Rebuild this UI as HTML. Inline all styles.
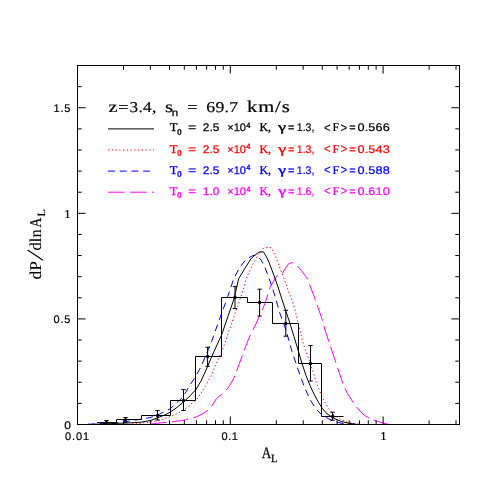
<!DOCTYPE html><html><head><meta charset="utf-8"><style>html,body{margin:0;padding:0;background:#fff;width:501px;height:501px;overflow:hidden}</style></head><body><svg width="501" height="501" viewBox="0 0 501 501" style="position:absolute;left:0;top:0;opacity:0.999;will-change:transform" font-family="Liberation Serif, serif" text-rendering="geometricPrecision">
<rect width="501" height="501" fill="#fff"/>
<polyline points="150.0,424.2 157.0,423.2 170.0,422.0 183.0,420.4 196.0,417.0 203.0,413.6 210.0,409.0 216.3,398.7 223.0,393.2 228.4,387.7 234.0,377.8 239.4,363.5 245.0,348.2 249.3,337.2 256.0,323.7 265.0,303.5 270.0,287.5 276.5,276.0 281.0,275.5 285.0,269.0 288.7,263.7 292.5,262.5 297.5,266.0 302.5,272.0 307.5,279.0 314.5,297.5 321.5,317.5 325.0,330.0 330.0,345.0 337.0,366.0 344.0,387.0 347.5,393.5 352.0,400.7 358.0,409.0 364.0,415.0 370.0,418.6 376.0,421.0 383.0,423.0 388.0,424.2" fill="none" stroke="#ff00ff" stroke-width="1" stroke-dasharray="16.7 5.3"/>
<polyline points="132.0,424.0 140.0,423.4 152.0,421.9 160.0,420.0 168.0,417.5 176.0,414.3 184.0,409.6 190.0,405.0 196.6,399.5 201.0,393.2 206.5,384.4 212.0,373.4 217.4,361.3 223.0,348.2 228.4,332.8 234.0,316.3 239.4,301.0 243.3,290.0 246.0,278.7 252.5,265.0 258.7,253.7 263.7,248.0 268.7,247.3 271.5,248.0 275.0,255.0 278.0,263.0 281.0,271.0 284.6,280.0 288.0,290.0 292.0,300.0 295.0,310.0 297.5,320.0 300.0,330.0 302.0,339.0 304.5,347.5 310.4,363.5 316.0,381.5 322.0,397.0 328.0,408.0 334.0,415.0 340.0,419.0 346.0,421.7 352.0,423.4 360.0,424.2" fill="none" stroke="#ff0000" stroke-width="1" stroke-dasharray="1.3 2.45"/>
<polyline points="88.0,424.2 100.0,423.8 115.0,423.0 130.0,421.0 150.0,417.6 157.6,415.0 170.0,409.0 183.0,397.0 190.0,385.0 195.5,376.7 201.0,366.8 206.5,353.7 212.0,340.5 217.4,325.0 221.4,314.0 226.2,301.0 230.0,290.0 233.7,278.7 240.0,267.0 246.0,259.5 252.5,255.7 256.0,255.0 261.0,260.0 265.0,267.5 270.0,281.0 275.0,296.0 280.0,313.7 286.0,330.0 292.0,351.5 298.0,369.5 304.0,386.0 310.0,399.5 316.0,409.0 322.0,415.0 328.0,418.6 334.0,421.0 340.0,423.0 348.0,424.2" fill="none" stroke="#0000ff" stroke-width="1" stroke-dasharray="7 4.7"/>
<polyline points="92.0,424.3 100.0,424.0 110.0,423.7 120.0,423.2 130.0,422.9 140.8,422.2 147.0,421.2 152.0,420.0 157.5,417.8 163.0,415.7 168.0,413.5 176.0,408.2 184.0,401.6 190.0,395.8 196.0,389.5 201.0,381.0 206.5,369.0 212.0,356.0 217.4,344.0 221.4,335.5 225.0,325.0 229.5,312.0 234.0,298.8 236.0,290.0 238.7,278.7 245.0,268.2 251.4,258.2 258.5,252.3 263.3,251.8 266.0,256.0 268.9,262.0 274.0,275.5 278.0,287.0 282.0,299.5 286.0,311.5 289.5,322.0 292.0,330.0 294.0,336.5 298.0,350.0 302.0,363.5 306.0,375.5 310.0,385.5 314.0,394.0 318.0,401.5 322.0,408.0 326.0,412.8 330.0,416.0 336.0,419.3 342.0,421.7 349.0,423.3 356.0,424.2" fill="none" stroke="#000" stroke-width="1"/>
<polyline points="97.0,422.5 116.5,422.5 116.5,419.5 141.5,419.5 141.5,415.5 170.5,415.5 170.5,400.5 195.5,400.5 195.5,356.5 221.5,356.5 221.5,297.5 247.5,297.5 247.5,302.5 272.5,302.5 272.5,323.5 298.5,323.5 298.5,363.5 321.5,363.5 321.5,416.5 343.5,416.5" fill="none" stroke="#000" stroke-width="1"/>
<path d="M106.5 420.5V424.3M104.3 420.5H108.7M104.3 424.3H108.7" stroke="#000" stroke-width="1" fill="none"/>
<circle cx="106.5" cy="422.5" r="1.7" fill="#000"/>
<path d="M125.5 417.5V422.3M123.3 417.5H127.7M123.3 422.3H127.7" stroke="#000" stroke-width="1" fill="none"/>
<circle cx="125.5" cy="419.8" r="1.7" fill="#000"/>
<path d="M157.5 410.6V420M155.3 410.6H159.7M155.3 420H159.7" stroke="#000" stroke-width="1" fill="none"/>
<circle cx="157.5" cy="415.5" r="1.7" fill="#000"/>
<path d="M183.5 389.6V410.5M181.3 389.6H185.7M181.3 410.5H185.7" stroke="#000" stroke-width="1" fill="none"/>
<circle cx="183.5" cy="400.5" r="1.7" fill="#000"/>
<path d="M207.6 347.2V366.3M205.4 347.2H209.79999999999998M205.4 366.3H209.79999999999998" stroke="#000" stroke-width="1" fill="none"/>
<circle cx="207.6" cy="356.5" r="1.7" fill="#000"/>
<path d="M235 286.6V308.6M232.8 286.6H237.2M232.8 308.6H237.2" stroke="#000" stroke-width="1" fill="none"/>
<circle cx="235" cy="297.5" r="1.7" fill="#000"/>
<path d="M259.6 289.2V316M257.40000000000003 289.2H261.8M257.40000000000003 316H261.8" stroke="#000" stroke-width="1" fill="none"/>
<circle cx="259.6" cy="302.5" r="1.7" fill="#000"/>
<path d="M285.8 310.3V336.2M283.6 310.3H288.0M283.6 336.2H288.0" stroke="#000" stroke-width="1" fill="none"/>
<circle cx="285.8" cy="323.5" r="1.7" fill="#000"/>
<path d="M310.5 345.6V381M308.3 345.6H312.7M308.3 381H312.7" stroke="#000" stroke-width="1" fill="none"/>
<circle cx="310.5" cy="363.5" r="1.7" fill="#000"/>
<path d="M332.6 412.2V420.2M330.40000000000003 412.2H334.8M330.40000000000003 420.2H334.8" stroke="#000" stroke-width="1" fill="none"/>
<circle cx="332.6" cy="416.5" r="1.7" fill="#000"/>
<line x1="108" y1="128.9" x2="154" y2="128.9" stroke="#000" stroke-width="1"/>
<line x1="108" y1="150.0" x2="154" y2="150.0" stroke="#ff0000" stroke-width="1" stroke-dasharray="1.3 2.45"/>
<line x1="108" y1="171.1" x2="154" y2="171.1" stroke="#0000ff" stroke-width="1" stroke-dasharray="7 4.7"/>
<line x1="108" y1="192.2" x2="154" y2="192.2" stroke="#ff00ff" stroke-width="1" stroke-dasharray="16.7 5.3"/>
<rect x="77.5" y="65.5" width="382.0" height="359.0" fill="none" stroke="#000" stroke-width="1"/>
<path d="M123.50 424.5v-4.2M123.50 65.5v4.2M150.40 424.5v-4.2M150.40 65.5v4.2M169.49 424.5v-4.2M169.49 65.5v4.2M184.30 424.5v-4.2M184.30 65.5v4.2M196.40 424.5v-4.2M196.40 65.5v4.2M206.63 424.5v-4.2M206.63 65.5v4.2M215.49 424.5v-4.2M215.49 65.5v4.2M223.31 424.5v-4.2M223.31 65.5v4.2M230.30 424.5v-8.1M230.30 65.5v8.1M276.30 424.5v-4.2M276.30 65.5v4.2M303.20 424.5v-4.2M303.20 65.5v4.2M322.29 424.5v-4.2M322.29 65.5v4.2M337.10 424.5v-4.2M337.10 65.5v4.2M349.20 424.5v-4.2M349.20 65.5v4.2M359.43 424.5v-4.2M359.43 65.5v4.2M368.29 424.5v-4.2M368.29 65.5v4.2M376.11 424.5v-4.2M376.11 65.5v4.2M383.10 424.5v-8.1M383.10 65.5v8.1M429.10 424.5v-4.2M429.10 65.5v4.2M456.00 424.5v-4.2M456.00 65.5v4.2M77.5 403.38h4.2M459.5 403.38h-4.2M77.5 382.26h4.2M459.5 382.26h-4.2M77.5 361.15h4.2M459.5 361.15h-4.2M77.5 340.03h4.2M459.5 340.03h-4.2M77.5 318.91h8.1M459.5 318.91h-8.1M77.5 297.79h4.2M459.5 297.79h-4.2M77.5 276.68h4.2M459.5 276.68h-4.2M77.5 255.56h4.2M459.5 255.56h-4.2M77.5 234.44h4.2M459.5 234.44h-4.2M77.5 213.32h8.1M459.5 213.32h-8.1M77.5 192.21h4.2M459.5 192.21h-4.2M77.5 171.09h4.2M459.5 171.09h-4.2M77.5 149.97h4.2M459.5 149.97h-4.2M77.5 128.85h4.2M459.5 128.85h-4.2M77.5 107.74h8.1M459.5 107.74h-8.1M77.5 86.62h4.2M459.5 86.62h-4.2" stroke="#000" stroke-width="1" fill="none"/>
<g transform="translate(53.6,111.6) scale(1.0,1)"><text x="0" y="0" font-family="Liberation Sans, sans-serif" font-size="11" fill="#000" textLength="16.80" lengthAdjust="spacing" stroke="#000" stroke-width="0.2">1.5</text></g>
<g transform="translate(64.2,217.6) scale(1.05,1)"><text x="0" y="0" font-family="Liberation Serif, serif" font-size="12" fill="#000" stroke="#000" stroke-width="0.2">1</text></g>
<g transform="translate(53.6,323.2) scale(1.0,1)"><text x="0" y="0" font-family="Liberation Sans, sans-serif" font-size="11" fill="#000" textLength="16.80" lengthAdjust="spacing" stroke="#000" stroke-width="0.2">0.5</text></g>
<g transform="translate(64.3,428.6) scale(1.1,1)"><text x="0" y="0" font-family="Liberation Sans, sans-serif" font-size="11" fill="#000" stroke="#000" stroke-width="0.2">0</text></g>
<g transform="translate(65,439.6) scale(1.0,1)"><text x="0" y="0" font-family="Liberation Sans, sans-serif" font-size="11" fill="#000" textLength="24.00" lengthAdjust="spacing" stroke="#000" stroke-width="0.2">0.01</text></g>
<g transform="translate(221.6,439.6) scale(1.0,1)"><text x="0" y="0" font-family="Liberation Sans, sans-serif" font-size="11" fill="#000" textLength="16.40" lengthAdjust="spacing" stroke="#000" stroke-width="0.2">0.1</text></g>
<g transform="translate(380.2,439.6) scale(1.05,1)"><text x="0" y="0" font-family="Liberation Serif, serif" font-size="12" fill="#000" stroke="#000" stroke-width="0.2">1</text></g>
<g transform="translate(261.8,458) scale(0.82,1)"><text x="0" y="0" font-family="Liberation Serif, serif" font-size="16" fill="#000" stroke="#000" stroke-width="0.25">A</text></g>
<g transform="translate(271.0,462) scale(0.95,1)"><text x="0" y="0" font-family="Liberation Serif, serif" font-size="11" fill="#000" stroke="#000" stroke-width="0.25">L</text></g>
<g transform="translate(40.6,279.4) rotate(-90) scale(1.06,1)"><text x="0" y="0" font-family="Liberation Serif, serif" font-size="16.5" fill="#000" stroke="#000" stroke-width="0.08">dP</text></g>
<line x1="43" y1="260.2" x2="27.6" y2="250" stroke="#000" stroke-width="1.1"/>
<g transform="translate(40.6,250.4) rotate(-90) scale(1.0,1)"><text x="0" y="0" font-family="Liberation Serif, serif" font-size="16.5" fill="#000" stroke="#000" stroke-width="0.08">dln</text></g>
<g transform="translate(40.6,227.4) rotate(-90) scale(0.82,1)"><text x="0" y="0" font-family="Liberation Serif, serif" font-size="16.5" fill="#000" stroke="#000" stroke-width="0.2">A</text></g>
<g transform="translate(44.6,216.6) rotate(-90) scale(1.1,1)"><text x="0" y="0" font-family="Liberation Serif, serif" font-size="11" fill="#000" stroke="#000" stroke-width="0.15">L</text></g>
<g transform="translate(108.4,111.7) scale(1.25,1)"><text x="0" y="0" font-family="Liberation Serif, serif" font-size="16" fill="#000" stroke="#000" stroke-width="0.2">z</text></g>
<g transform="translate(118.3,111.7) scale(1.2,1)"><text x="0" y="0" font-family="Liberation Serif, serif" font-size="15" fill="#000" stroke="#000" stroke-width="0.2">=</text></g>
<g transform="translate(129.6,111.7) scale(1.15,1)"><text x="0" y="0" font-family="Liberation Serif, serif" font-size="15" fill="#000" textLength="23.13" lengthAdjust="spacing" stroke="#000" stroke-width="0.2">3.4,</text></g>
<g transform="translate(165,111.7) scale(1.3,1)"><text x="0" y="0" font-family="Liberation Serif, serif" font-size="16" fill="#000" stroke="#000" stroke-width="0.2">s</text></g>
<g transform="translate(171.8,115.5) scale(1.15,1)"><text x="0" y="0" font-family="Liberation Sans, sans-serif" font-size="10" fill="#000" stroke="#000" stroke-width="0.25">n</text></g>
<g transform="translate(187.3,111.7) scale(1.2,1)"><text x="0" y="0" font-family="Liberation Serif, serif" font-size="15" fill="#000" stroke="#000" stroke-width="0.2">=</text></g>
<g transform="translate(206.3,111.7) scale(1.18,1)"><text x="0" y="0" font-family="Liberation Serif, serif" font-size="15" fill="#000" textLength="26.86" lengthAdjust="spacing" stroke="#000" stroke-width="0.2">69.7</text></g>
<g transform="translate(247,111.7) scale(1.25,1)"><text x="0" y="0" font-family="Liberation Serif, serif" font-size="16.5" fill="#000" textLength="34.16" lengthAdjust="spacing" stroke="#000" stroke-width="0.2">km/s</text></g>
<g transform="translate(169.8,131.3) scale(1.05,1)"><text x="0" y="0" font-family="Liberation Serif, serif" font-size="12" fill="#000" stroke="#000" stroke-width="0.3">T</text></g>
<g transform="translate(177,134.7) scale(1.0,1)"><text x="0" y="0" font-family="Liberation Sans, sans-serif" font-size="8.5" fill="#000" stroke="#000" stroke-width="0.15" font-weight="bold">0</text></g>
<g transform="translate(188,131.3) scale(1.3,1)"><text x="0" y="0" font-family="Liberation Sans, sans-serif" font-size="11" fill="#000" stroke="#000" stroke-width="0.05">=</text></g>
<g transform="translate(202.8,131.3) scale(1.08,1)"><text x="0" y="0" font-family="Liberation Sans, sans-serif" font-size="11" fill="#000" textLength="15.46" lengthAdjust="spacing" stroke="#000" stroke-width="0.25">2.5</text></g>
<g transform="translate(227.2,131.3) scale(1.0,1)"><text x="0" y="0" font-family="Liberation Sans, sans-serif" font-size="11" fill="#000" textLength="18.70" lengthAdjust="spacing" stroke="#000" stroke-width="0.25">×10</text></g>
<g transform="translate(246.2,128.0) scale(1.0,1)"><text x="0" y="0" font-family="Liberation Sans, sans-serif" font-size="7.5" fill="#000" stroke="#000" stroke-width="0.15" font-weight="bold">4</text></g>
<g transform="translate(259.6,131.3) scale(1.0,1)"><text x="0" y="0" font-family="Liberation Serif, serif" font-size="12" fill="#000" textLength="11.40" lengthAdjust="spacing" stroke="#000" stroke-width="0.3">K,</text></g>
<g transform="translate(278.2,131.3) scale(1.4,1)"><text x="0" y="0" font-family="Liberation Serif, serif" font-size="12.5" fill="#000" stroke="#000" stroke-width="0.4">γ</text></g>
<g transform="translate(288,131.3) scale(1.0,1)"><text x="0" y="0" font-family="Liberation Sans, sans-serif" font-size="11" fill="#000" stroke="#000" stroke-width="0.2">=</text></g>
<g transform="translate(296.8,131.3) scale(0.96,1)"><text x="0" y="0" font-family="Liberation Sans, sans-serif" font-size="11" fill="#000" textLength="18.33" lengthAdjust="spacing" stroke="#000" stroke-width="0.2">1.3,</text></g>
<g transform="translate(324,131.9) scale(0.88,1)"><text x="0" y="0" font-family="Liberation Sans, sans-serif" font-size="13" fill="#000" stroke="#000" stroke-width="0.1">&lt;</text></g>
<g transform="translate(332.5,131.3) scale(1.0,1)"><text x="0" y="0" font-family="Liberation Serif, serif" font-size="12" fill="#000" stroke="#000" stroke-width="0.2">F</text></g>
<g transform="translate(340.4,131.9) scale(0.88,1)"><text x="0" y="0" font-family="Liberation Sans, sans-serif" font-size="13" fill="#000" stroke="#000" stroke-width="0.1">&gt;</text></g>
<g transform="translate(349.3,131.3) scale(1.0,1)"><text x="0" y="0" font-family="Liberation Sans, sans-serif" font-size="11" fill="#000" stroke="#000" stroke-width="0.2">=</text></g>
<g transform="translate(357.5,131.3) scale(1.15,1)"><text x="0" y="0" font-family="Liberation Sans, sans-serif" font-size="11" fill="#000" textLength="28.09" lengthAdjust="spacing" stroke="#000" stroke-width="0.2">0.566</text></g>
<g transform="translate(169.8,152.5) scale(1.05,1)"><text x="0" y="0" font-family="Liberation Serif, serif" font-size="12" fill="#ff0000" stroke="#ff0000" stroke-width="0.3">T</text></g>
<g transform="translate(177,155.9) scale(1.0,1)"><text x="0" y="0" font-family="Liberation Sans, sans-serif" font-size="8.5" fill="#ff0000" stroke="#ff0000" stroke-width="0.15" font-weight="bold">0</text></g>
<g transform="translate(188,152.5) scale(1.3,1)"><text x="0" y="0" font-family="Liberation Sans, sans-serif" font-size="11" fill="#ff0000" stroke="#ff0000" stroke-width="0.05">=</text></g>
<g transform="translate(202.8,152.5) scale(1.08,1)"><text x="0" y="0" font-family="Liberation Sans, sans-serif" font-size="11" fill="#ff0000" textLength="15.46" lengthAdjust="spacing" stroke="#ff0000" stroke-width="0.25">2.5</text></g>
<g transform="translate(227.2,152.5) scale(1.0,1)"><text x="0" y="0" font-family="Liberation Sans, sans-serif" font-size="11" fill="#ff0000" textLength="18.70" lengthAdjust="spacing" stroke="#ff0000" stroke-width="0.25">×10</text></g>
<g transform="translate(246.2,149.2) scale(1.0,1)"><text x="0" y="0" font-family="Liberation Sans, sans-serif" font-size="7.5" fill="#ff0000" stroke="#ff0000" stroke-width="0.15" font-weight="bold">4</text></g>
<g transform="translate(259.6,152.5) scale(1.0,1)"><text x="0" y="0" font-family="Liberation Serif, serif" font-size="12" fill="#ff0000" textLength="11.40" lengthAdjust="spacing" stroke="#ff0000" stroke-width="0.3">K,</text></g>
<g transform="translate(278.2,152.5) scale(1.4,1)"><text x="0" y="0" font-family="Liberation Serif, serif" font-size="12.5" fill="#ff0000" stroke="#ff0000" stroke-width="0.4">γ</text></g>
<g transform="translate(288,152.5) scale(1.0,1)"><text x="0" y="0" font-family="Liberation Sans, sans-serif" font-size="11" fill="#ff0000" stroke="#ff0000" stroke-width="0.2">=</text></g>
<g transform="translate(296.8,152.5) scale(0.96,1)"><text x="0" y="0" font-family="Liberation Sans, sans-serif" font-size="11" fill="#ff0000" textLength="18.33" lengthAdjust="spacing" stroke="#ff0000" stroke-width="0.2">1.3,</text></g>
<g transform="translate(324,153.1) scale(0.88,1)"><text x="0" y="0" font-family="Liberation Sans, sans-serif" font-size="13" fill="#ff0000" stroke="#ff0000" stroke-width="0.1">&lt;</text></g>
<g transform="translate(332.5,152.5) scale(1.0,1)"><text x="0" y="0" font-family="Liberation Serif, serif" font-size="12" fill="#ff0000" stroke="#ff0000" stroke-width="0.2">F</text></g>
<g transform="translate(340.4,153.1) scale(0.88,1)"><text x="0" y="0" font-family="Liberation Sans, sans-serif" font-size="13" fill="#ff0000" stroke="#ff0000" stroke-width="0.1">&gt;</text></g>
<g transform="translate(349.3,152.5) scale(1.0,1)"><text x="0" y="0" font-family="Liberation Sans, sans-serif" font-size="11" fill="#ff0000" stroke="#ff0000" stroke-width="0.2">=</text></g>
<g transform="translate(357.5,152.5) scale(1.15,1)"><text x="0" y="0" font-family="Liberation Sans, sans-serif" font-size="11" fill="#ff0000" textLength="28.09" lengthAdjust="spacing" stroke="#ff0000" stroke-width="0.2">0.543</text></g>
<g transform="translate(169.8,173.6) scale(1.05,1)"><text x="0" y="0" font-family="Liberation Serif, serif" font-size="12" fill="#0000ff" stroke="#0000ff" stroke-width="0.3">T</text></g>
<g transform="translate(177,177.0) scale(1.0,1)"><text x="0" y="0" font-family="Liberation Sans, sans-serif" font-size="8.5" fill="#0000ff" stroke="#0000ff" stroke-width="0.15" font-weight="bold">0</text></g>
<g transform="translate(188,173.6) scale(1.3,1)"><text x="0" y="0" font-family="Liberation Sans, sans-serif" font-size="11" fill="#0000ff" stroke="#0000ff" stroke-width="0.05">=</text></g>
<g transform="translate(202.8,173.6) scale(1.08,1)"><text x="0" y="0" font-family="Liberation Sans, sans-serif" font-size="11" fill="#0000ff" textLength="15.46" lengthAdjust="spacing" stroke="#0000ff" stroke-width="0.25">2.5</text></g>
<g transform="translate(227.2,173.6) scale(1.0,1)"><text x="0" y="0" font-family="Liberation Sans, sans-serif" font-size="11" fill="#0000ff" textLength="18.70" lengthAdjust="spacing" stroke="#0000ff" stroke-width="0.25">×10</text></g>
<g transform="translate(246.2,170.3) scale(1.0,1)"><text x="0" y="0" font-family="Liberation Sans, sans-serif" font-size="7.5" fill="#0000ff" stroke="#0000ff" stroke-width="0.15" font-weight="bold">4</text></g>
<g transform="translate(259.6,173.6) scale(1.0,1)"><text x="0" y="0" font-family="Liberation Serif, serif" font-size="12" fill="#0000ff" textLength="11.40" lengthAdjust="spacing" stroke="#0000ff" stroke-width="0.3">K,</text></g>
<g transform="translate(278.2,173.6) scale(1.4,1)"><text x="0" y="0" font-family="Liberation Serif, serif" font-size="12.5" fill="#0000ff" stroke="#0000ff" stroke-width="0.4">γ</text></g>
<g transform="translate(288,173.6) scale(1.0,1)"><text x="0" y="0" font-family="Liberation Sans, sans-serif" font-size="11" fill="#0000ff" stroke="#0000ff" stroke-width="0.2">=</text></g>
<g transform="translate(296.8,173.6) scale(0.96,1)"><text x="0" y="0" font-family="Liberation Sans, sans-serif" font-size="11" fill="#0000ff" textLength="18.33" lengthAdjust="spacing" stroke="#0000ff" stroke-width="0.2">1.3,</text></g>
<g transform="translate(324,174.2) scale(0.88,1)"><text x="0" y="0" font-family="Liberation Sans, sans-serif" font-size="13" fill="#0000ff" stroke="#0000ff" stroke-width="0.1">&lt;</text></g>
<g transform="translate(332.5,173.6) scale(1.0,1)"><text x="0" y="0" font-family="Liberation Serif, serif" font-size="12" fill="#0000ff" stroke="#0000ff" stroke-width="0.2">F</text></g>
<g transform="translate(340.4,174.2) scale(0.88,1)"><text x="0" y="0" font-family="Liberation Sans, sans-serif" font-size="13" fill="#0000ff" stroke="#0000ff" stroke-width="0.1">&gt;</text></g>
<g transform="translate(349.3,173.6) scale(1.0,1)"><text x="0" y="0" font-family="Liberation Sans, sans-serif" font-size="11" fill="#0000ff" stroke="#0000ff" stroke-width="0.2">=</text></g>
<g transform="translate(357.5,173.6) scale(1.15,1)"><text x="0" y="0" font-family="Liberation Sans, sans-serif" font-size="11" fill="#0000ff" textLength="28.09" lengthAdjust="spacing" stroke="#0000ff" stroke-width="0.2">0.588</text></g>
<g transform="translate(169.8,194.8) scale(1.05,1)"><text x="0" y="0" font-family="Liberation Serif, serif" font-size="12" fill="#ff00ff" stroke="#ff00ff" stroke-width="0.3">T</text></g>
<g transform="translate(177,198.2) scale(1.0,1)"><text x="0" y="0" font-family="Liberation Sans, sans-serif" font-size="8.5" fill="#ff00ff" stroke="#ff00ff" stroke-width="0.15" font-weight="bold">0</text></g>
<g transform="translate(188,194.8) scale(1.3,1)"><text x="0" y="0" font-family="Liberation Sans, sans-serif" font-size="11" fill="#ff00ff" stroke="#ff00ff" stroke-width="0.05">=</text></g>
<g transform="translate(202.8,194.8) scale(1.08,1)"><text x="0" y="0" font-family="Liberation Sans, sans-serif" font-size="11" fill="#ff00ff" textLength="15.46" lengthAdjust="spacing" stroke="#ff00ff" stroke-width="0.25">1.0</text></g>
<g transform="translate(227.2,194.8) scale(1.0,1)"><text x="0" y="0" font-family="Liberation Sans, sans-serif" font-size="11" fill="#ff00ff" textLength="18.70" lengthAdjust="spacing" stroke="#ff00ff" stroke-width="0.25">×10</text></g>
<g transform="translate(246.2,191.5) scale(1.0,1)"><text x="0" y="0" font-family="Liberation Sans, sans-serif" font-size="7.5" fill="#ff00ff" stroke="#ff00ff" stroke-width="0.15" font-weight="bold">4</text></g>
<g transform="translate(259.6,194.8) scale(1.0,1)"><text x="0" y="0" font-family="Liberation Serif, serif" font-size="12" fill="#ff00ff" textLength="11.40" lengthAdjust="spacing" stroke="#ff00ff" stroke-width="0.3">K,</text></g>
<g transform="translate(278.2,194.8) scale(1.4,1)"><text x="0" y="0" font-family="Liberation Serif, serif" font-size="12.5" fill="#ff00ff" stroke="#ff00ff" stroke-width="0.4">γ</text></g>
<g transform="translate(288,194.8) scale(1.0,1)"><text x="0" y="0" font-family="Liberation Sans, sans-serif" font-size="11" fill="#ff00ff" stroke="#ff00ff" stroke-width="0.2">=</text></g>
<g transform="translate(296.8,194.8) scale(0.96,1)"><text x="0" y="0" font-family="Liberation Sans, sans-serif" font-size="11" fill="#ff00ff" textLength="18.33" lengthAdjust="spacing" stroke="#ff00ff" stroke-width="0.2">1.6,</text></g>
<g transform="translate(324,195.4) scale(0.88,1)"><text x="0" y="0" font-family="Liberation Sans, sans-serif" font-size="13" fill="#ff00ff" stroke="#ff00ff" stroke-width="0.1">&lt;</text></g>
<g transform="translate(332.5,194.8) scale(1.0,1)"><text x="0" y="0" font-family="Liberation Serif, serif" font-size="12" fill="#ff00ff" stroke="#ff00ff" stroke-width="0.2">F</text></g>
<g transform="translate(340.4,195.4) scale(0.88,1)"><text x="0" y="0" font-family="Liberation Sans, sans-serif" font-size="13" fill="#ff00ff" stroke="#ff00ff" stroke-width="0.1">&gt;</text></g>
<g transform="translate(349.3,194.8) scale(1.0,1)"><text x="0" y="0" font-family="Liberation Sans, sans-serif" font-size="11" fill="#ff00ff" stroke="#ff00ff" stroke-width="0.2">=</text></g>
<g transform="translate(357.5,194.8) scale(1.15,1)"><text x="0" y="0" font-family="Liberation Sans, sans-serif" font-size="11" fill="#ff00ff" textLength="28.09" lengthAdjust="spacing" stroke="#ff00ff" stroke-width="0.2">0.610</text></g>
</svg></body></html>
